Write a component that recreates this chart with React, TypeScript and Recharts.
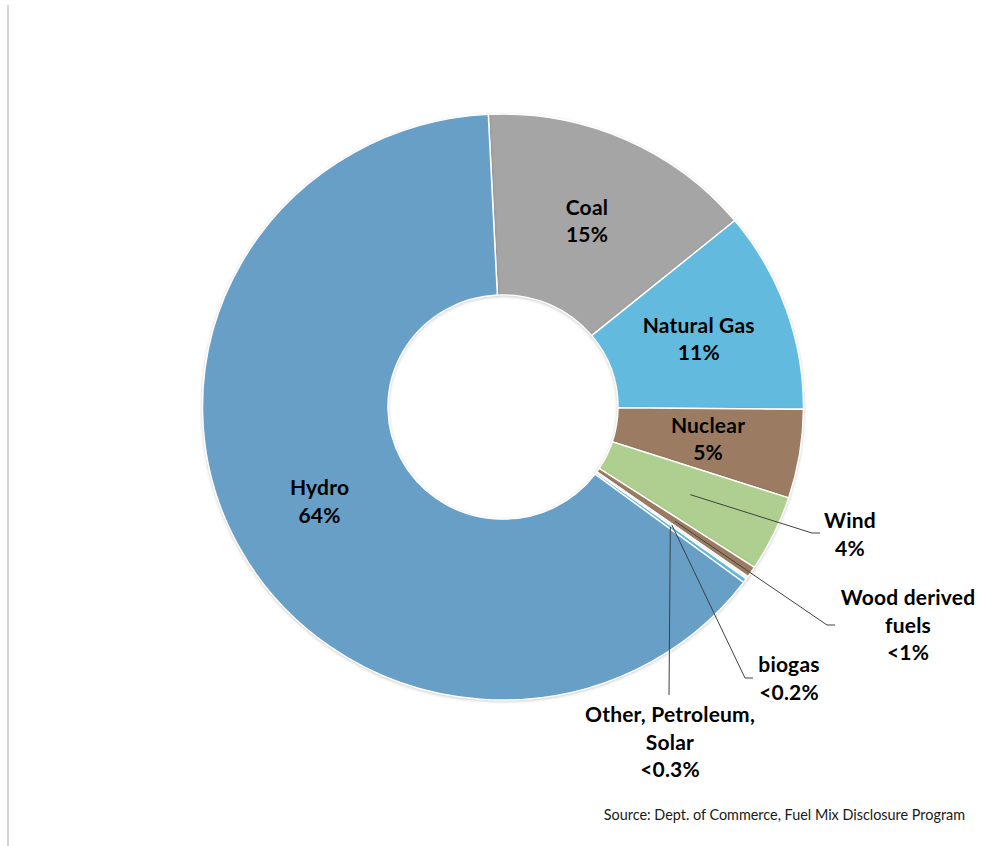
import { PieChart, Pie, Cell } from 'recharts';

const CATEGORIES = ['Coal', 'Natural Gas', 'Nuclear', 'Wind', 'Wood derived fuels', 'biogas', 'Other, Petroleum, Solar', 'Hydro'];
const SHARES = [14.8, 11.1, 4.9, 4.2, 0.6, 0.15, 0.25, 64.0];
const SHARE_LABELS = ['15%', '11%', '5%', '4%', '<1%', '<0.2%', '<0.3%', '64%'];

const COLORS: Record<string, string> = {
  Coal: '#a5a5a5',
  'Natural Gas': '#62bbde',
  Nuclear: '#9b7c63',
  Wind: '#aecf8f',
  'Wood derived fuels': '#9b7c63',
  biogas: '#fbfbfb',
  'Other, Petroleum, Solar': '#62bbde',
  Hydro: '#679fc7',
};

// labels drawn outside the ring: leader elbow, line end, text block
const CALLOUTS: Record<string, { elbow: [number, number]; end: [number, number]; tx: number; ty: number; lines: string[] }> = {
  Wind: { elbow: [812, 533], end: [820, 533], tx: 850, ty: 521, lines: ['Wind'] },
  'Wood derived fuels': { elbow: [827, 625], end: [835, 625], tx: 908, ty: 598, lines: ['Wood derived', 'fuels'] },
  biogas: { elbow: [745, 678], end: [753, 678], tx: 789, ty: 665, lines: ['biogas'] },
  'Other, Petroleum, Solar': { elbow: [669, 695], end: [669, 695], tx: 670, ty: 715, lines: ['Other, Petroleum,', 'Solar'] },
};

const data = CATEGORIES.map((name, i) => ({ name, value: SHARES[i], pct: SHARE_LABELS[i] }));

const FONT = 'Lato, "Open Sans", sans-serif';
const LINE_H = 27.5;
const RAD = Math.PI / 180;
const CX = 503;
const CY = 407;
const SY = 0.975; // the original ring is a touch flatter than a circle

function SliceLabel(props: any) {
  const { cx, cy, midAngle, innerRadius, outerRadius, name, payload } = props;
  const r = (innerRadius + outerRadius) / 2;
  const x = cx + r * Math.cos(-midAngle * RAD);
  const y = cy + r * Math.sin(-midAngle * RAD) * SY;
  const pct = payload?.pct ?? props.pct;
  const call = CALLOUTS[name];
  const textStyle = { fontFamily: FONT, fontWeight: 700, fontSize: 21, letterSpacing: 0.2 };
  if (!call) {
    return (
      <text x={x} y={y} textAnchor="middle" style={textStyle} fill="#000">
        <tspan x={x} dy={-LINE_H / 2 + 7}>{name}</tspan>
        <tspan x={x} dy={LINE_H}>{pct}</tspan>
      </text>
    );
  }
  const lines = [...call.lines, pct];
  return (
    <g>
      <polyline
        points={`${x},${y} ${call.elbow[0]},${call.elbow[1]} ${call.end[0]},${call.end[1]}`}
        fill="none"
        stroke="#404040"
        strokeWidth={1}
      />
      <text textAnchor="middle" style={textStyle} fill="#000">
        {lines.map((l, i) => (
          <tspan key={i} x={call.tx} y={call.ty + i * LINE_H + 7}>{l}</tspan>
        ))}
      </text>
    </g>
  );
}

export default function App() {
  return (
    <div style={{ position: 'fixed', left: 0, top: 0, width: 982, height: 846, background: '#fff' }}>
      <style>{`
        .recharts-pie-sector { transform-box: view-box; transform-origin: ${CX}px ${CY}px; transform: scaleY(${SY}); }
        .recharts-pie-sector path { filter: drop-shadow(0px 1.5px 1.5px rgba(0,0,0,0.2)); }
      `}</style>
      <div style={{ position: 'absolute', left: 7, top: 5, width: 2, height: 841, background: '#d4d4d4' }} />
      <PieChart width={982} height={846} margin={{ top: 0, right: 0, bottom: 0, left: 0 }}>
        <Pie
          data={data}
          dataKey="value"
          nameKey="name"
          cx={CX}
          cy={CY}
          innerRadius={115}
          outerRadius={300.5}
          startAngle={92.8}
          endAngle={-267.2}
          stroke="#ffffff"
          strokeWidth={1.5}
          label={SliceLabel}
          labelLine={false}
          isAnimationActive={false}
        >
          {data.map((d) => (
            <Cell key={d.name} fill={COLORS[d.name]} />
          ))}
        </Pie>
      </PieChart>
      <div
        style={{
          position: 'absolute',
          right: 17,
          top: 806,
          fontFamily: FONT,
          fontSize: 14.4,
          color: '#1a1a1a',
          whiteSpace: 'nowrap',
        }}
      >
        Source: Dept. of Commerce, Fuel Mix Disclosure Program
      </div>
    </div>
  );
}
